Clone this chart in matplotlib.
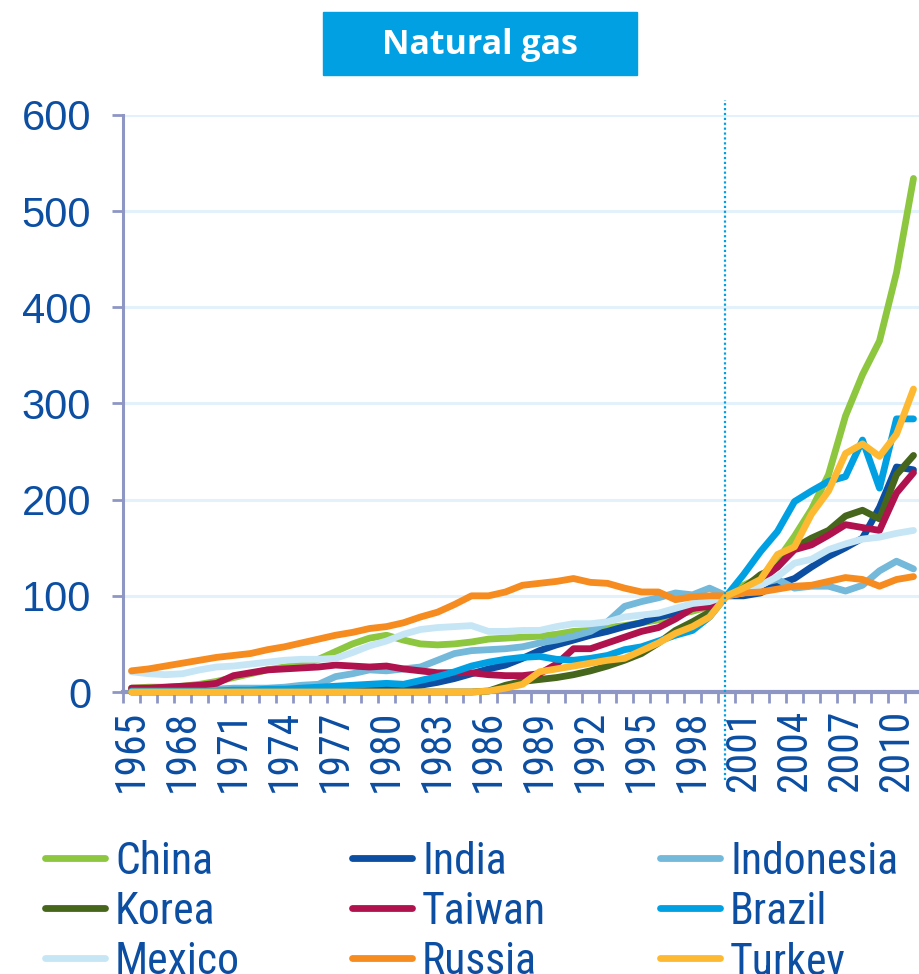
import matplotlib
matplotlib.use("Agg")
import matplotlib.pyplot as plt
from matplotlib.lines import Line2D
from matplotlib.patches import Rectangle
from matplotlib import font_manager

# ---------------- data (index, 2000 = 100) ----------------
years = list(range(1965, 2012))

china = [4, 5, 5, 6, 8, 11, 15, 19, 23, 26,
         29, 34, 42, 50, 56, 59, 54, 50, 49, 50,
         52, 55, 56, 57, 58, 60, 63, 64, 67, 69,
         72, 75, 80, 84, 89,
         100, 111, 119, 137, 162, 190, 226, 287, 330, 365, 436, 534]
india = [1, 1, 1, 1, 1, 2, 2, 2, 2, 2,
         3, 3, 3, 3, 4, 4, 5, 7, 10, 14,
         19, 24, 28, 35, 43, 49, 54, 59, 63, 68,
         72, 78, 82, 87, 91,
         100, 100, 103, 112, 118, 130, 141, 150, 160, 192, 234, 231]
indonesia = [2, 2, 2, 2, 3, 3, 4, 4, 4, 5,
             7, 8, 16, 19, 23, 22, 24, 26, 33, 40,
             43, 44, 45, 47, 51, 54, 58, 63, 73, 89,
             94, 98, 103, 101, 108,
             100, 105, 113, 117, 108, 110, 110, 105, 111, 126, 136, 128]
korea = [0, 0, 0, 0, 0, 0, 0, 0, 0, 0,
         0, 0, 0, 0, 0, 0, 0, 0, 0, 0,
         0, 1, 7, 11, 13, 15, 18, 22, 27, 33,
         40, 51, 64, 73, 83,
         100, 108, 122, 130, 150, 160, 168, 183, 189, 180, 226, 246]
taiwan = [4, 4, 5, 6, 7, 9, 17, 20, 23, 24,
          25, 26, 28, 27, 26, 27, 24, 22, 20, 20,
          20, 18, 17, 17, 19, 29, 45, 45, 51, 57,
          63, 67, 76, 87, 89,
          100, 105, 116, 130, 148, 153, 163, 174, 171, 168, 207, 228]
brazil = [1, 1, 1, 1, 1, 1, 2, 2, 3, 3,
          4, 5, 6, 7, 8, 9, 8, 12, 16, 21,
          27, 31, 34, 36, 37, 34, 33, 35, 38, 44,
          47, 53, 59, 64, 78,
          100, 122, 146, 167, 198, 209, 219, 224, 262, 212, 284, 284]
mexico = [21, 19, 18, 19, 23, 26, 27, 29, 31, 33,
          34, 34, 35, 41, 48, 53, 60, 65, 67, 68,
          69, 63, 63, 64, 64, 68, 71, 71, 73, 78,
          80, 82, 87, 92, 94,
          100, 103, 111, 120, 134, 138, 148, 154, 159, 161, 165, 168]
russia = [22, 24, 27, 30, 33, 36, 38, 40, 44, 47,
          51, 55, 59, 62, 66, 68, 72, 78, 83, 91,
          100, 100, 104, 111, 113, 115, 118, 114, 113, 108,
          104, 104, 96, 99, 100,
          100, 103, 104, 107, 110, 111, 115, 119, 117, 110, 117, 120]
turkey = [0, 0, 0, 0, 0, 0, 0, 0, 0, 0,
          0, 0, 0, 0, 0, 0, 0, 0, 0, 0,
          0, 1, 4, 8, 21, 24, 27, 30, 33, 35,
          43, 51, 61, 68, 78,
          100, 108, 117, 143, 151, 185, 209, 248, 258, 245, 268, 315]

names = ["China", "India", "Indonesia", "Korea", "Taiwan", "Brazil",
         "Mexico", "Russia", "Turkey"]
values = [china, india, indonesia, korea, taiwan, brazil, mexico, russia, turkey]
colors = ["#8DC63F", "#0B4EA2", "#74B8DA", "#46661C", "#B0124E", "#00A0E3",
          "#C6E6F6", "#F68B1F", "#FDB931"]

y_ticks = [0, 100, 200, 300, 400, 500, 600]
x_label_years = list(range(1965, 2011, 3))
title = "Natural gas"
base_year = 2000

# ---------------- fonts ----------------
avail = {f.name for f in font_manager.fontManager.ttflist}
narrow = None
for cand in ["Liberation Sans Narrow", "Arial Narrow", "Roboto Condensed",
             "Open Sans Condensed", "DejaVu Sans Condensed", "Noto Sans Condensed"]:
    if cand in avail:
        narrow = cand
        break
if narrow is None:
    narrow_family, xlab_size, leg_size = "Liberation Sans", 24.5, 28
else:
    narrow_family, xlab_size, leg_size = narrow, 30, 31.5

text_blue = "#0B4EA2"
axis_col = "#8E96C4"

W, H = 919, 974
fig = plt.figure(figsize=(W / 100, H / 100), dpi=100)

left_px, right_px, top_px, bot_px = 123, 123 + 47 * 17, 115, 692
ax = fig.add_axes([left_px / W, 1 - bot_px / H, (right_px - left_px) / W, (bot_px - top_px) / H])
ax.set_xlim(1964.5, 2011.5)
ax.set_ylim(0, 600)

LW = 4.9
for name, vals, c in zip(names, values, colors):
    ax.plot(years, vals, color=c, lw=LW, solid_capstyle="round",
            solid_joinstyle="round", clip_on=False, zorder=3)

ax.set_axisbelow(True)
ax.yaxis.grid(True, color="#E3F1FA", lw=2.2)
ax.xaxis.grid(False)

for s in ["top", "right"]:
    ax.spines[s].set_visible(False)
ax.spines["left"].set_color(axis_col)
ax.spines["left"].set_linewidth(2.2)
ax.spines["bottom"].set_color(axis_col)
ax.spines["bottom"].set_linewidth(3)
ax.spines["left"].set_zorder(4)
ax.spines["bottom"].set_zorder(2.5)

ax.set_yticks(y_ticks)
ax.set_yticklabels([str(v) for v in y_ticks], fontsize=30,
                   family="Liberation Sans", color=text_blue)
ax.tick_params(axis="y", direction="out", length=8, width=2, color=axis_col, pad=15)

ax.set_xticks([y - 0.5 for y in years] + [2011.5])
ax.set_xticklabels([])
ax.tick_params(axis="x", which="major", direction="out", length=8, width=2, color=axis_col)
ax.set_xticks(x_label_years, minor=True)
ax.set_xticklabels([str(y) for y in x_label_years], minor=True, rotation=90,
                   fontsize=xlab_size, family=narrow_family, color=text_blue)
ax.tick_params(axis="x", which="minor", length=0, pad=13)

ax.plot([base_year - 0.1, base_year - 0.1], [-92, 616], color="#00A0E3", lw=1.6,
        ls=(0, (1, 1.2)), clip_on=False, zorder=5)

fig.patches.append(Rectangle((323 / W, 1 - 75 / H), (637 - 323) / W, 63 / H,
                             transform=fig.transFigure, color="#00A0E3", zorder=0))
fig.text(480 / W, 1 - 45 / H, title, ha="center", va="center", color="white",
         fontsize=24.5, fontweight="bold", family="Open Sans")

row_y = [858, 908, 958]
col_x = [45, 352, 660]
for i, (name, c) in enumerate(zip(names, colors)):
    r, cc = divmod(i, 3)
    x0 = col_x[cc]
    yy = 1 - row_y[r] / H
    fig.add_artist(Line2D([x0 / W, (x0 + 60) / W], [yy, yy], transform=fig.transFigure,
                          color=c, lw=LW, solid_capstyle="round"))
    fig.text((x0 + 70) / W, yy, name, ha="left", va="center_baseline",
             fontsize=leg_size, family=narrow_family, color=text_blue)

fig.savefig("out.png", dpi=100)
